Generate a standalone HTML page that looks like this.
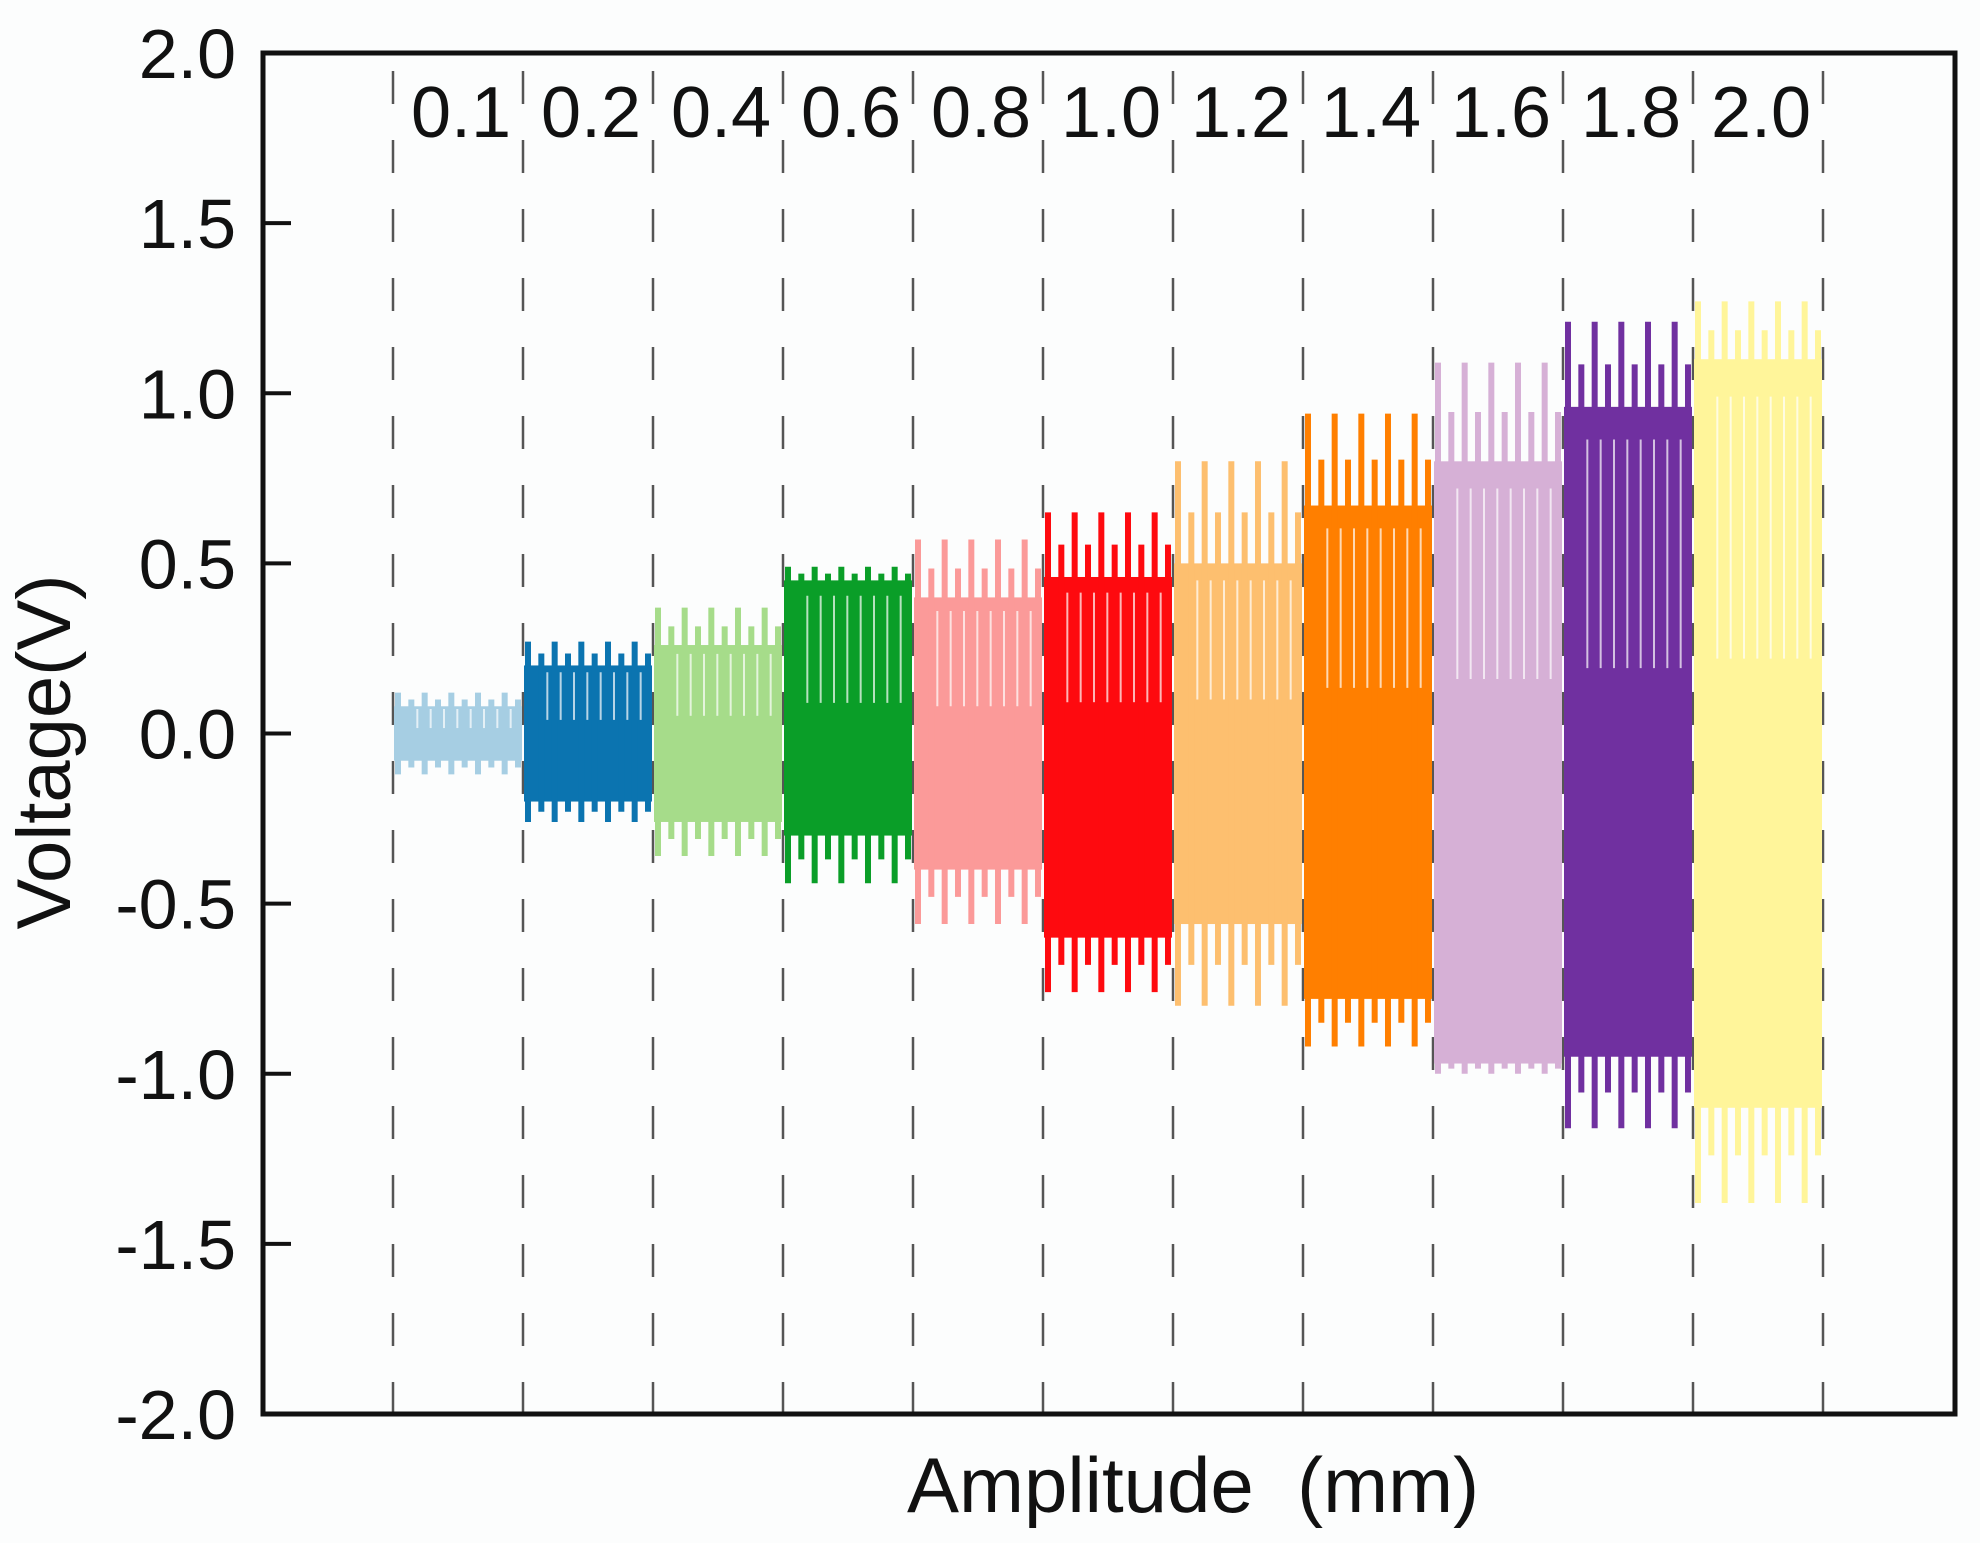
<!DOCTYPE html>
<html><head><meta charset="utf-8"><style>
html,body{margin:0;padding:0;background:#fff;}
svg{display:block;font-family:"Liberation Sans",sans-serif;}
</style></head><body>
<svg id="chart" width="1980" height="1543" viewBox="0 0 1980 1543">
<rect x="0" y="0" width="1980" height="1543" fill="#fcfdfd"/>
<g id="dashes"></g>
<g id="marks"></g>
<g id="axes"></g>
</svg>
<script>
const categories = ["0.1","0.2","0.4","0.6","0.8","1.0","1.2","1.4","1.6","1.8","2.0"];
const outerPos = [0.12,0.27,0.37,0.49,0.57,0.65,0.80,0.94,1.09,1.21,1.27];
const outerNeg = [-0.12,-0.26,-0.36,-0.44,-0.56,-0.76,-0.80,-0.92,-1.00,-1.16,-1.38];
const innerPos = [0.08,0.20,0.26,0.45,0.40,0.46,0.50,0.67,0.80,0.96,1.10];
const innerNeg = [-0.08,-0.20,-0.26,-0.30,-0.40,-0.60,-0.56,-0.78,-0.97,-0.95,-1.10];
const colors = ["#a6cee3","#0b74b0","#a6dc8a","#0a9e28","#fb9a99","#fe0a0f","#fdbf6f","#ff7f00","#d6b0d6","#7030a0","#fff59a"];
const yTicks = ["2.0","1.5","1.0","0.5","0.0","-0.5","-1.0","-1.5","-2.0"];

const NS="http://www.w3.org/2000/svg";
const L=263,R=1955,T=53,B=1414;
const X0=393,DX=130;
function y(v){return 733.5-(v)*(B-T)/4;}
function xEdge(i){return X0+i*DX;}
function mk(tag,attrs,parent){const e=document.createElementNS(NS,tag);for(const k in attrs)e.setAttribute(k,attrs[k]);parent.appendChild(e);return e;}
const dashes=document.getElementById('dashes'),marks=document.getElementById('marks'),axes=document.getElementById('axes');

for(let i=0;i<=categories.length;i++){
  const l=mk('line',{x1:xEdge(i),x2:xEdge(i),y1:71,y2:B,stroke:'#555',"stroke-width":2.5,"stroke-dasharray":"33 36"},dashes);
  
  
}
categories.forEach((c,i)=>{
  const g=mk('g',{},marks);
  
  
  const x0=xEdge(i)+1,x1=xEdge(i+1)-1,w=x1-x0;
  mk('rect',{x:x0,y:y(innerPos[i]),width:w,height:y(innerNeg[i])-y(innerPos[i]),fill:colors[i]},g);
  const n=10;
  for(let k=0;k<n;k++){
    const sx=x0+4+k*(w-8)/(n-1);
    const full=k%2===0;
    const top=full?outerPos[i]:(outerPos[i]+innerPos[i])/2;
    const bot=full?outerNeg[i]:(outerNeg[i]+innerNeg[i])/2;
    mk('line',{x1:sx,x2:sx,y1:y(top),y2:y(bot),stroke:colors[i],"stroke-width":6},g);
    if(k>0&&k<n-1) mk('line',{x1:sx+6,x2:sx+6,y1:y(innerPos[i]*0.9),y2:y(innerPos[i]*0.2),stroke:'#fff',"stroke-width":2,opacity:0.7},g);
  }
  const t=mk('text',{x:(xEdge(i)+xEdge(i+1))/2+3,y:137,"text-anchor":"middle","font-size":72,fill:'#111'},marks);
  t.textContent=c;
  
  
});
yTicks.forEach(s=>{
  const v=parseFloat(s);
  const tk=mk('line',{x1:L,x2:L+28,y1:y(v),y2:y(v),stroke:'#111',"stroke-width":4},axes);
  
  
  const t=mk('text',{x:236,y:y(v)+25,"text-anchor":"end","font-size":70,fill:'#111'},axes);
  t.textContent=s;
  
  
});
const frame=mk('rect',{x:L,y:T,width:R-L,height:B-T,fill:'none',stroke:'#111',"stroke-width":5},axes);


const yt=mk('text',{x:0,y:0,transform:'translate(70,752) rotate(-90)',"text-anchor":"middle","font-size":76,fill:'#111'},axes);
yt.textContent='Voltage(V)';


const xt=mk('text',{x:1193,y:1512,"text-anchor":"middle","font-size":78,fill:'#111'},axes);
xt.textContent='Amplitude\u00a0\u00a0(mm)';


</script>
</body></html>
